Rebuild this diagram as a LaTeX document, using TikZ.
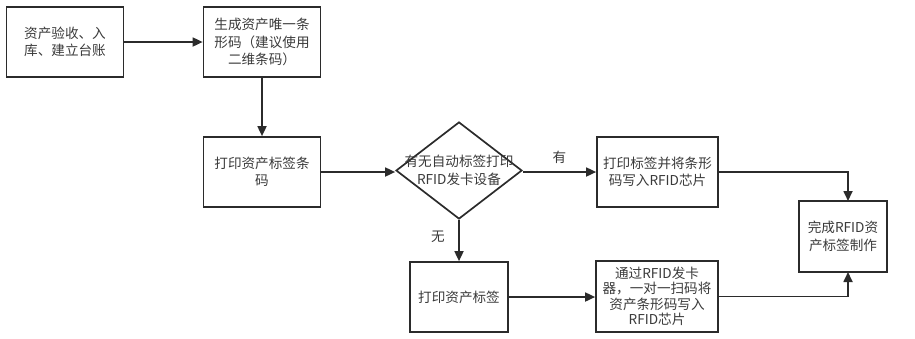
\documentclass[tikz,border=0pt]{standalone}
\usepackage{fontspec}
\setmainfont{Noto Sans CJK SC}
\usetikzlibrary{arrows.meta,shapes.geometric}
\definecolor{ln}{HTML}{2B2B2B}
\definecolor{tx}{HTML}{3A3A3A}
\begin{document}
\begin{tikzpicture}[x=1pt,y=-1pt,
  every node/.style={font=\fontsize{13.6}{17.5}\selectfont,text=tx},
  box/.style={draw=ln,line width=1.7pt,minimum width=117pt,minimum height=70pt,align=center,inner sep=0pt},
  dia/.style={draw=ln,line width=1.7pt,diamond,minimum width=126pt,minimum height=97pt,inner sep=0pt},
  arr/.style={draw=ln,line width=1.7pt,-{Triangle[length=10pt,width=9pt]}},
  lab/.style={font=\fontsize{13.6}{15}\selectfont}]
\useasboundingbox (0,0) rectangle (915,338);
\node[box] (a) at (65,42) {资产验收、入\\库、建立台账};
\node[box] (b) at (262,42) {生成资产唯一条\\形码（建议使用\\二维条码）};
\node[box] (c) at (262,172) {打印资产标签条\\码};
\node[dia,label={[align=center,inner sep=0pt]center:有无自动标签打印\\RFID发卡设备}] (d) at (459,170.5) {};
\node[box,minimum width=121pt] (e) at (657.5,172) {打印标签并将条形\\码写入RFID芯片};
\node[box,minimum width=98pt] (f) at (459,297) {打印资产标签};
\node[box,minimum width=122pt,minimum height=71pt,font=\fontsize{13.6}{15.5}\selectfont] (g) at (657,296.5) {通过RFID发卡\\器，一对一扫码将\\资产条形码写入\\RFID芯片};
\node[box,minimum width=88pt,minimum height=71pt] (h) at (843,236.5) {完成RFID资\\产标签制作};
\coordinate (ht) at (848,201);
\coordinate (hb) at (848,272);
\draw[arr] (a.east) -- (b.west);
\draw[arr] (b.south) -- (c.north);
\draw[arr] (c.east) -- (d.west |- c.east);
\draw[arr] (d.east |- e.west) -- node[lab,above=4pt] {有} (e.west);
\draw[arr] (d.south) -- node[lab,left=10pt,pos=0.4] {无} (f.north);
\draw[arr] (f.east) -- (g.west |- f.east);
\draw[arr] (e.east) -| (ht);
\draw[arr] (g.east) -| (hb);
\end{tikzpicture}
\end{document}
